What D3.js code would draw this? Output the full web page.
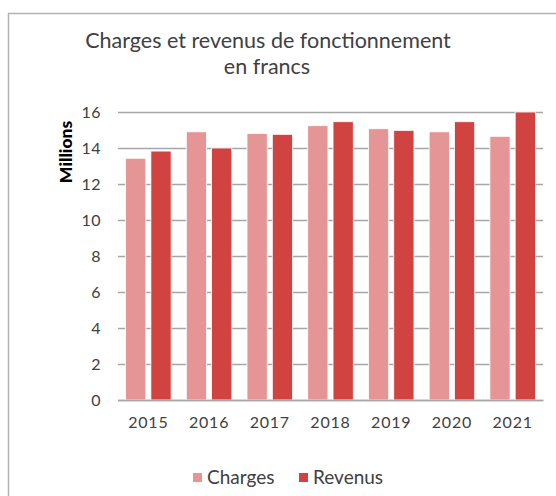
<!DOCTYPE html>
<html><head><meta charset="utf-8">
<script src="https://cdn.jsdelivr.net/npm/d3@7"></script>
<style>
html,body{margin:0;padding:0;background:#fff;}
svg{display:block;font-family:Lato, "Open Sans", sans-serif;}
</style></head>
<body>
<svg id="chart" width="556" height="496"></svg>
<script>
const categories = ["2015","2016","2017","2018","2019","2020","2021"];
const seriesNames = ["Charges","Revenus"];
const charges = [13.43, 14.9, 14.8, 15.24, 15.07, 14.9, 14.65];
const revenus = [13.83, 14.0, 14.76, 15.46, 14.98, 15.46, 16.0];
const yTicks = [0,2,4,6,8,10,12,14,16];
const colors = {Charges:"#e69596", Revenus:"#d04340"};
const titleLines = ["Charges et revenus de fonctionnement","en francs"];

const svg = d3.select("#chart");
// frame
svg.append("rect").attr("x",8.5).attr("y",13.5).attr("width",560).attr("height",500)
  .attr("fill","none").attr("stroke","#b3b3b3").attr("stroke-width",1.5);

const x = d3.scaleBand().domain(categories).range([118,543]).padding(0);
const xs = d3.scaleBand().domain(seriesNames).range([0,x.bandwidth()]).paddingInner(0.2).paddingOuter(0.3);
const y = d3.scaleLinear().domain([0,16]).range([400,112]);

// gridlines
const yAxis = d3.axisLeft(y).tickValues(yTicks).tickSize(-(543-118)).tickPadding(17).tickFormat(d3.format("d"));
const gy = svg.append("g").attr("transform","translate(118,0)").call(yAxis);
gy.select(".domain").remove();
gy.selectAll(".tick line").attr("stroke","#a6a6a6").attr("stroke-width",1.3);
gy.selectAll(".tick text").attr("fill","#404040").attr("font-size",16).attr("font-family","Lato").attr("letter-spacing",0.5);

// bars
const data = categories.map((c,i)=>({cat:c, vals:[{s:"Charges",v:charges[i]},{s:"Revenus",v:revenus[i]}]}));
const g = svg.append("g");
g.selectAll("g.cat").data(data).join("g").attr("class","cat")
 .attr("transform",d=>`translate(${x(d.cat)},0)`)
 .selectAll("rect").data(d=>d.vals).join("rect")
 .attr("x",d=>xs(d.s)).attr("width",xs.bandwidth())
 .attr("y",d=>y(d.v)).attr("height",d=>y(0)-y(d.v))
 .attr("fill",d=>colors[d.s]).attr("stroke","#fff").attr("stroke-width",0.8);

// x axis
const xAxis = d3.axisBottom(x).tickSize(0).tickPadding(17);
const gx = svg.append("g").attr("transform","translate(0,400)").call(xAxis);
gx.select(".domain").attr("stroke","#a6a6a6").attr("stroke-width",1.3);
gx.selectAll(".tick text").attr("fill","#404040").attr("font-size",16).attr("font-family","Lato").attr("letter-spacing",0.8);

// y label
svg.append("text").attr("transform","translate(72,152) rotate(-90)")
  .attr("text-anchor","middle").attr("font-weight","900").attr("font-size",17.5)
  .attr("fill","#000").text("Millions");

// title
svg.append("text").attr("x",268).attr("y",48).attr("text-anchor","middle")
  .attr("font-size",21.5).attr("fill","#404040").text(titleLines[0]);
svg.append("text").attr("x",267).attr("y",74).attr("text-anchor","middle")
  .attr("font-size",21.5).attr("fill","#404040").text(titleLines[1]);

// legend
const legendX = [193, 299];
const lg = svg.append("g");
seriesNames.forEach((s,i)=>{
  lg.append("rect").attr("x",legendX[i]).attr("y",473).attr("width",9).attr("height",9).attr("fill",colors[s]);
  lg.append("text").attr("x",legendX[i]+14).attr("y",484).attr("font-size",19).attr("fill","#404040").text(s);
});
</script>
</body></html>
